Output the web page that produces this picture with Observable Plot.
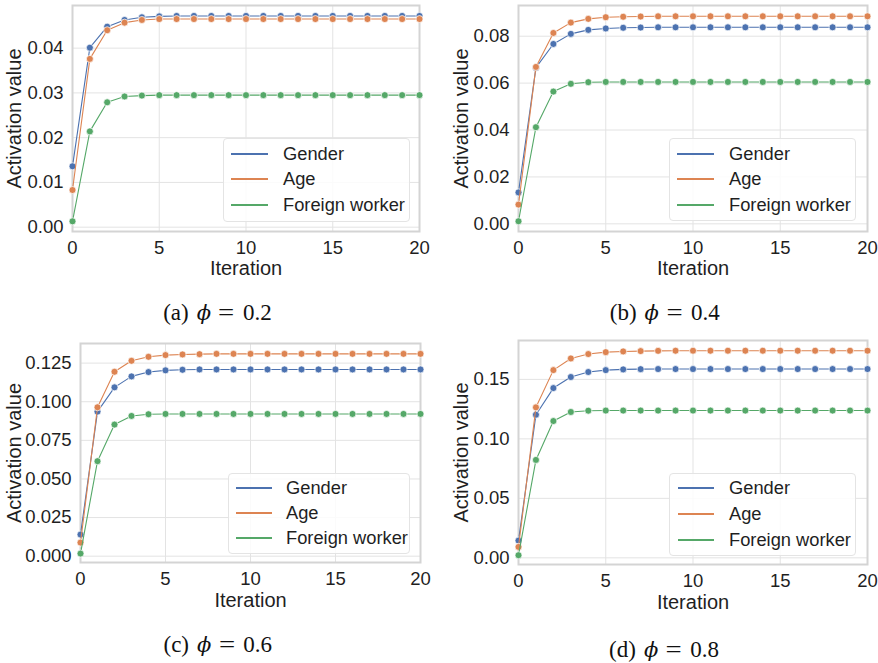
<!DOCTYPE html>
<html><head><meta charset="utf-8">
<script src="https://cdn.jsdelivr.net/npm/d3@7"></script>
<script src="https://cdn.jsdelivr.net/npm/@observablehq/plot@0.6"></script>
<style>
html,body{margin:0;padding:0;background:#fff;}
body{width:878px;height:663px;position:relative;overflow:hidden;font-family:"Liberation Sans",Arial,sans-serif;color:#262626;}
.panel{position:absolute;}
.panel svg{overflow:visible;}
g[aria-label="x-axis label"], g[aria-label="y-axis label"]{font-size:20px;}
.legend{position:absolute;background:rgba(255,255,255,0.85);border:1px solid #e4e4e4;border-radius:4px;box-sizing:border-box;font-size:18.3px;color:#1f1f1f;}
.legend .row{position:absolute;left:0;height:24px;}
.legend .sw{position:absolute;top:-0.6px;height:1.3px;}
.legend .lbl{position:absolute;top:-11px;line-height:22px;white-space:nowrap;}
.caption{position:absolute;font-family:"Liberation Serif","DejaVu Serif",serif;font-size:23px;transform:translate(-50%,-50%);white-space:nowrap;color:#111;}
.caption span{display:inline-block;}
.caption .phi{font-family:"DejaVu Serif","Liberation Serif",serif;font-style:italic;font-size:21px;margin:0 9px 0 8px;}
.caption .eq{margin-right:10px;transform:scaleX(1.25);}
</style>
</head><body>
<script>
const iterations = d3.range(0, 21);
const seriesNames = ["Gender", "Age", "Foreign worker"];
const colors = ["#4c72b0", "#dd8452", "#55a868"];
const xTicks = [0, 5, 10, 15, 20];

// (a) phi = 0.2
const genderA = [0.0136,0.0401,0.0448,0.0463,0.0469,0.0471,0.0472,0.0472,0.0472,0.0472,0.0472,0.0472,0.0472,0.0472,0.0472,0.0472,0.0472,0.0472,0.0472,0.0472,0.0472];
const ageA    = [0.0083,0.0376,0.0440,0.0457,0.0463,0.0465,0.0465,0.0465,0.0465,0.0465,0.0465,0.0465,0.0465,0.0465,0.0465,0.0465,0.0465,0.0465,0.0465,0.0465,0.0465];
const foreignA= [0.0013,0.0214,0.0279,0.0292,0.0294,0.0295,0.0295,0.0295,0.0295,0.0295,0.0295,0.0295,0.0295,0.0295,0.0295,0.0295,0.0295,0.0295,0.0295,0.0295,0.0295];
const yTicksA = [0, 0.01, 0.02, 0.03, 0.04];

// (b) phi = 0.4
const genderB = [0.0134,0.0666,0.0767,0.0810,0.0827,0.0833,0.0836,0.0837,0.0838,0.0838,0.0838,0.0838,0.0838,0.0838,0.0838,0.0838,0.0838,0.0838,0.0838,0.0838,0.0838];
const ageB    = [0.0082,0.0669,0.0814,0.0858,0.0874,0.0881,0.0883,0.0884,0.0885,0.0885,0.0885,0.0885,0.0885,0.0885,0.0885,0.0885,0.0885,0.0885,0.0885,0.0885,0.0885];
const foreignB= [0.0011,0.0412,0.0564,0.0597,0.0604,0.0605,0.0605,0.0605,0.0605,0.0605,0.0605,0.0605,0.0605,0.0605,0.0605,0.0605,0.0605,0.0605,0.0605,0.0605,0.0605];
const yTicksB = [0, 0.02, 0.04, 0.06, 0.08];

// (c) phi = 0.6
const genderC = [0.0140,0.0936,0.1093,0.1164,0.1192,0.1203,0.1207,0.1209,0.1209,0.1209,0.1209,0.1209,0.1209,0.1209,0.1209,0.1209,0.1209,0.1209,0.1209,0.1209,0.1209];
const ageC    = [0.0088,0.0964,0.1194,0.1265,0.1291,0.1302,0.1306,0.1308,0.1310,0.1310,0.1310,0.1310,0.1310,0.1310,0.1310,0.1310,0.1310,0.1310,0.1310,0.1310,0.1310];
const foreignC= [0.0017,0.0615,0.0852,0.0908,0.0919,0.0921,0.0921,0.0921,0.0921,0.0921,0.0921,0.0921,0.0921,0.0921,0.0921,0.0921,0.0921,0.0921,0.0921,0.0921,0.0921];
const yTicksC = [0, 0.025, 0.05, 0.075, 0.1, 0.125];

// (d) phi = 0.8
const genderD = [0.0145,0.1203,0.1427,0.1520,0.1562,0.1578,0.1584,0.1586,0.1587,0.1587,0.1587,0.1587,0.1587,0.1587,0.1587,0.1587,0.1587,0.1587,0.1587,0.1587,0.1587];
const ageD    = [0.0092,0.1265,0.1578,0.1676,0.1713,0.1729,0.1735,0.1738,0.1740,0.1741,0.1741,0.1741,0.1741,0.1741,0.1741,0.1741,0.1741,0.1741,0.1741,0.1741,0.1741];
const foreignD= [0.0022,0.0823,0.1150,0.1226,0.1237,0.1238,0.1238,0.1238,0.1238,0.1238,0.1238,0.1238,0.1238,0.1238,0.1238,0.1238,0.1238,0.1238,0.1238,0.1238,0.1238];
const yTicksD = [0, 0.05, 0.10, 0.15];

const captions = [["(a)", "0.2"], ["(b)", "0.4"], ["(c)", "0.6"], ["(d)", "0.8"]];

// layout (positions/styles only)
const layout = [
  {series:[genderA,ageA,foreignA], yTicks:yTicksA, fmt:".2f", yDomain:[-0.00097,0.04953],
   left:0, top:0, width:440, height:290, mt:5, mr:21, mb:59, ml:72, ylo:66, xlo:43,
   legend:{left:223, top:138, w:187, h:84, rows:[15,40,66], lx:7, lw:37, tx:59},
   cap:{x:217.5, y:313}},
  {series:[genderB,ageB,foreignB], yTicks:yTicksB, fmt:".2f", yDomain:[-0.00327,0.0931],
   left:440, top:0, width:438, height:290, mt:5, mr:11, mb:59, ml:78, ylo:65, xlo:43,
   legend:{left:669, top:138, w:187, h:83, rows:[15,40,66], lx:7, lw:37, tx:59},
   cap:{x:664.7, y:313}},
  {series:[genderC,ageC,foreignC], yTicks:yTicksC, fmt:".3f", yDomain:[-0.00409,0.1377],
   left:0, top:330, width:440, height:290, mt:13, mr:20, mb:58, ml:80, ylo:74, xlo:44,
   legend:{left:228, top:473, w:182, h:81, rows:[14,39,64], lx:7, lw:36, tx:57},
   cap:{x:217.8, y:645}},
  {series:[genderD,ageD,foreignD], yTicks:yTicksD, fmt:".2f", yDomain:[-0.0056,0.1827],
   left:440, top:330, width:438, height:290, mt:10, mr:11, mb:56, ml:78, ylo:65, xlo:44.5,
   legend:{left:669, top:473, w:187, h:83, rows:[14,40,66], lx:8, lw:36, tx:59},
   cap:{x:664, y:650}}
];

layout.forEach((L, pi) => {
  const marks = [
    Plot.gridX(xTicks, {stroke:"#e3e3e3", strokeOpacity:1, strokeWidth:1}),
    Plot.gridY(L.yTicks, {stroke:"#e3e3e3", strokeOpacity:1, strokeWidth:1}),
    Plot.frame({stroke:"#d4d4d4", strokeWidth:2})
  ];
  L.series.forEach((vals, si) => {
    const d = iterations.map((x, j) => ({x, y: vals[j], s: seriesNames[si]}));
    marks.push(Plot.line(d, {x:"x", y:"y", stroke:colors[si], strokeWidth:1.1}));
    marks.push(Plot.dot(d, {x:"x", y:"y", fill:colors[si], stroke:"white", strokeWidth:0.7, r:3.5}));
  });
  marks.push(Plot.axisX({ticks:xTicks, tickSize:0, tickPadding:9, tickFormat:d3.format("d"),
    label:"Iteration", labelAnchor:"center", labelArrow:"none", labelOffset:L.xlo}));
  marks.push(Plot.axisY({ticks:L.yTicks, tickSize:0, tickPadding:9, tickFormat:d3.format(L.fmt),
    label:"Activation value", labelAnchor:"center", labelArrow:"none", labelOffset:L.ylo}));

  const chart = Plot.plot({
    width:L.width, height:L.height,
    marginTop:L.mt, marginRight:L.mr, marginBottom:L.mb, marginLeft:L.ml,
    x:{domain:[0,20]},
    y:{domain:L.yDomain},
    style:{fontFamily:"'Liberation Sans', Arial, sans-serif", fontSize:"18.5px", color:"#1f1f1f", background:"transparent"},
    marks
  });
  const wrap = document.createElement("div");
  wrap.className = "panel";
  wrap.style.left = L.left + "px";
  wrap.style.top = L.top + "px";
  wrap.appendChild(chart);
  document.body.appendChild(wrap);

  // legend
  const lg = document.createElement("div");
  lg.className = "legend";
  Object.assign(lg.style, {left:L.legend.left+"px", top:L.legend.top+"px", width:L.legend.w+"px", height:L.legend.h+"px"});
  seriesNames.forEach((name, si) => {
    const row = document.createElement("div");
    row.className = "row";
    row.style.top = L.legend.rows[si] + "px";
    const sw = document.createElement("div");
    sw.className = "sw";
    Object.assign(sw.style, {left:L.legend.lx+"px", width:L.legend.lw+"px", background:colors[si]});
    const lbl = document.createElement("div");
    lbl.className = "lbl";
    lbl.style.left = L.legend.tx + "px";
    lbl.textContent = name;
    row.appendChild(sw); row.appendChild(lbl);
    lg.appendChild(row);
  });
  document.body.appendChild(lg);

  // caption
  const cap = document.createElement("div");
  cap.className = "caption";
  cap.style.left = L.cap.x + "px";
  cap.style.top = L.cap.y + "px";
  cap.innerHTML = `<span>${captions[pi][0]}</span><span class="phi">\u03D5</span><span class="eq">=</span><span>${captions[pi][1]}</span>`;
  document.body.appendChild(cap);
});
</script>
</body></html>
